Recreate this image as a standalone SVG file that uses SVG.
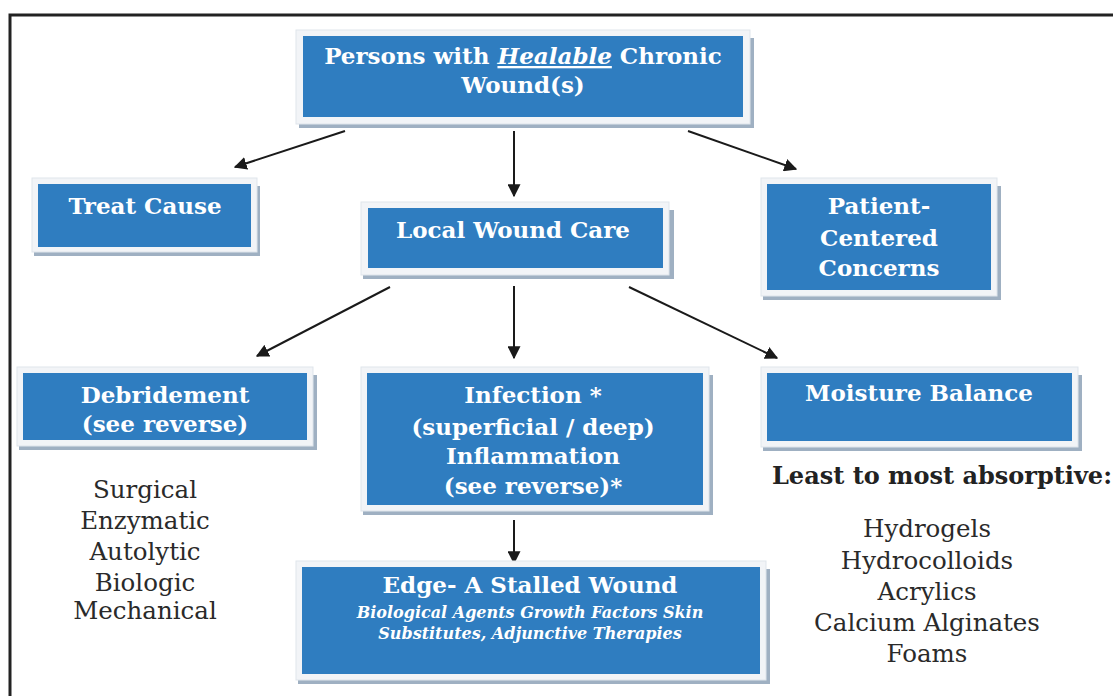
<svg xmlns="http://www.w3.org/2000/svg" width="1113" height="696" viewBox="0 0 1113 696">
<defs>
<marker id="ah" viewBox="0 0 10 10" refX="9" refY="5" markerWidth="6.5" markerHeight="6.5" orient="auto" markerUnits="strokeWidth">
<path d="M0,0 L10,5 L0,10 z" fill="#1a1a1a"/>
</marker>
<style>
.sh{fill:#9fb0c2}
.fr{fill:#f2f4f7;stroke:#dfe5eb;stroke-width:1}
.bx{fill:#2f7dc0}
.t{font-family:"DejaVu Serif","Liberation Serif",serif;font-weight:bold;fill:#ffffff;text-anchor:middle;font-size:23px}
.ti{font-family:"DejaVu Serif","Liberation Serif",serif;font-weight:bold;font-style:italic;fill:#ffffff;text-anchor:middle;font-size:16px}
.b{font-family:"DejaVu Serif","Liberation Serif",serif;fill:#2a2a2a;text-anchor:middle;font-size:24.5px}
.bb{font-family:"DejaVu Serif","Liberation Serif",serif;font-weight:bold;fill:#222;text-anchor:middle;font-size:24px}
.c{stroke:#1a1a1a;stroke-width:2;fill:none;marker-end:url(#ah)}
</style>
</defs>
<rect x="0" y="0" width="1113" height="696" fill="#ffffff"/>
<rect x="10" y="15" width="1120" height="700" fill="none" stroke="#222" stroke-width="3"/>

<g id="connectors">
<line class="c" x1="345" y1="131" x2="235" y2="167"/>
<line class="c" x1="514" y1="131" x2="514" y2="196"/>
<line class="c" x1="688" y1="131" x2="796" y2="169"/>
<line class="c" x1="390" y1="287" x2="257" y2="356"/>
<line class="c" x1="514" y1="286" x2="514" y2="358"/>
<line class="c" x1="629" y1="287" x2="777" y2="358"/>
<line class="c" x1="514" y1="520" x2="514" y2="563"/>
</g>

<g id="n-top">
<rect class="sh" x="299" y="38" width="455" height="90"/>
<rect class="fr" x="296" y="30" width="454" height="94"/>
<rect class="bx" x="303" y="36" width="440" height="81"/>
<text class="t" x="523" y="64">Persons with <tspan font-style="italic" text-decoration="underline">Healable</tspan> Chronic</text>
<text class="t" x="523" y="93">Wound(s)</text>
</g>

<g id="n-treat">
<rect class="sh" x="34" y="186" width="226" height="70"/>
<rect class="fr" x="32" y="178" width="225" height="74"/>
<rect class="bx" x="38" y="184" width="213" height="63"/>
<text class="t" x="145" y="214">Treat Cause</text>
</g>

<g id="n-local">
<rect class="sh" x="363" y="210" width="311" height="69"/>
<rect class="fr" x="361" y="202" width="308" height="73"/>
<rect class="bx" x="368" y="208" width="295" height="60"/>
<text class="t" x="513" y="238">Local Wound Care</text>
</g>

<g id="n-patient">
<rect class="sh" x="763" y="186" width="238" height="114"/>
<rect class="fr" x="761" y="178" width="236" height="118"/>
<rect class="bx" x="767" y="184" width="224" height="106"/>
<text class="t" x="879" y="214">Patient-</text>
<text class="t" x="879" y="246">Centered</text>
<text class="t" x="879" y="276">Concerns</text>
</g>

<g id="n-debr">
<rect class="sh" x="19" y="375" width="298" height="75"/>
<rect class="fr" x="17" y="367" width="296" height="79"/>
<rect class="bx" x="23" y="373" width="284" height="67"/>
<text class="t" x="165" y="403">Debridement</text>
<text class="t" x="165" y="432">(see reverse)</text>
</g>

<g id="n-infection">
<rect class="sh" x="363" y="375" width="350" height="140"/>
<rect class="fr" x="361" y="367" width="348" height="144"/>
<rect class="bx" x="367" y="373" width="336" height="132"/>
<text class="t" x="533" y="403">Infection *</text>
<text class="t" x="533" y="435">(superficial / deep)</text>
<text class="t" x="533" y="464">Inflammation</text>
<text class="t" x="533" y="494">(see reverse)*</text>
</g>

<g id="n-moist">
<rect class="sh" x="763" y="375" width="319" height="76"/>
<rect class="fr" x="761" y="367" width="317" height="80"/>
<rect class="bx" x="767" y="373" width="305" height="68"/>
<text class="t" x="919" y="401">Moisture Balance</text>
</g>

<g id="n-edge">
<rect class="sh" x="298" y="569" width="472" height="115"/>
<rect class="fr" x="296" y="561" width="470" height="119"/>
<rect class="bx" x="302" y="567" width="458" height="107"/>
<text class="t" x="530" y="593">Edge- A Stalled Wound</text>
<text class="ti" x="530" y="618">Biological Agents Growth Factors Skin</text>
<text class="ti" x="530" y="639">Substitutes, Adjunctive Therapies</text>
</g>

<g id="debr-list">
<text class="b" x="145" y="498">Surgical</text>
<text class="b" x="145" y="529">Enzymatic</text>
<text class="b" x="145" y="560">Autolytic</text>
<text class="b" x="145" y="591">Biologic</text>
<text class="b" x="145" y="619">Mechanical</text>
</g>

<g id="moist-list">
<text class="bb" x="942" y="484">Least to most absorptive:</text>
<text class="b" x="927" y="537">Hydrogels</text>
<text class="b" x="927" y="569">Hydrocolloids</text>
<text class="b" x="927" y="600">Acrylics</text>
<text class="b" x="927" y="631">Calcium Alginates</text>
<text class="b" x="927" y="662">Foams</text>
</g>
</svg>
